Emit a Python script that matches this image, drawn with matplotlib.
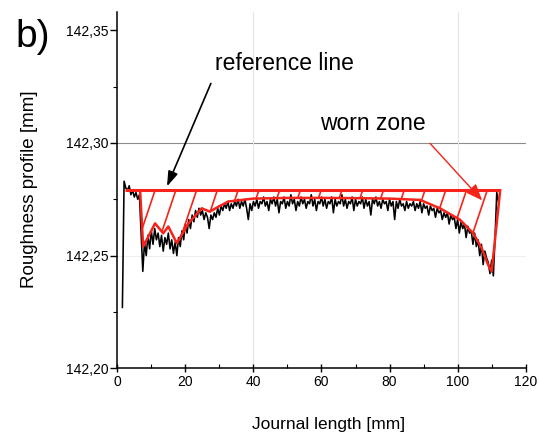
import numpy as np
import matplotlib
matplotlib.use("Agg")
import matplotlib.pyplot as plt
from matplotlib.ticker import FuncFormatter, MultipleLocator

plt.rcParams["font.family"] = ["Liberation Sans", "DejaVu Sans"]

# --- data (profile heights in micrometres above 142.20 mm) ---
BASE_MM = 142.20
X_START, X_STEP = 1.5, 0.5
profile_um = [
    27, 83, 80, 79, 81, 77, 79, 76, 78, 75,
    77, 60, 43, 56, 50, 59, 53, 61, 55, 62,
    57, 60, 54, 59, 52, 58, 55, 60, 53, 57,
    51, 56, 50, 58, 54, 61, 57, 64, 60, 66,
    62, 68, 65, 70, 67, 71, 68, 70, 66, 69,
    67, 62, 68, 66, 69, 67, 71, 68, 72, 70,
    73, 71, 74, 70, 73, 71, 74, 72, 75, 71,
    74, 72, 75, 71, 66, 73, 70, 74, 72, 75,
    71, 74, 73, 76, 72, 74, 70, 75, 73, 76,
    72, 75, 69, 74, 73, 76, 71, 74, 72, 77,
    73, 75, 70, 74, 72, 76, 73, 75, 71, 74,
    73, 77, 72, 75, 70, 74, 73, 76, 72, 75,
    71, 74, 73, 76, 69, 75, 72, 74, 73, 77,
    72, 75, 71, 74, 73, 76, 70, 75, 72, 74,
    73, 76, 71, 75, 72, 74, 68, 75, 73, 76,
    72, 74, 71, 75, 73, 74, 70, 75, 72, 74,
    66, 74, 71, 75, 72, 73, 70, 74, 71, 73,
    72, 74, 70, 73, 71, 74, 69, 73, 71, 72,
    68, 72, 70, 71, 67, 71, 69, 70, 66, 69,
    67, 69, 64, 68, 66, 67, 62, 66, 60, 65,
    62, 64, 58, 63, 60, 61, 55, 60, 54, 57,
    50, 55, 46, 52, 49, 47, 42, 48, 41, 58,
    78, 74,
]

# reference line and lower envelope of the worn zone
ref_um = 79.0
ref_x = [2.3, 112.5]
env_x = [6.7, 7.6, 11.1, 13.5, 15.0, 17.5, 20.9, 24.8, 27.2, 29.7, 32.6,
         40, 50, 60, 70, 80, 89.0, 94.8, 100.7, 104.6, 107.1, 109.0, 110.0, 112.5]
env_um = [79, 54, 64.3, 59.9, 62.9, 55.5, 64.3, 71.0, 69.5, 71.7, 74.0,
          75.3, 75.6, 75.6, 75.5, 75.3, 74.7, 71.0, 65.9, 59.9, 53.2, 45.8, 42.9, 79]

RED = "#f5231a"

x_prof = X_START + X_STEP * np.arange(len(profile_um))
y_prof = BASE_MM + np.array(profile_um) / 1000.0
env_y = BASE_MM + np.array(env_um) / 1000.0
ref_y = BASE_MM + ref_um / 1000.0

fig = plt.figure(figsize=(5.39, 4.36), dpi=100)
ax = fig.add_axes([0.2176, 0.1553, 0.7577, 0.8167])

# faint grid
ax.axhline(142.30, color="#8c8c8c", lw=0.8, zorder=0)
ax.axhline(142.25, color="#eeeeee", lw=0.8, zorder=0)
for gx in (40, 100):
    ax.axvline(gx, color="#e6e6e6", lw=0.8, zorder=0)

ax.plot(x_prof, y_prof, color="black", lw=1.15, zorder=2)

# worn zone: reference line, envelope and hatching
ax.plot(ref_x, [ref_y, ref_y], color=RED, lw=2.2, zorder=3, solid_capstyle="butt")
ax.plot(env_x, env_y, color=RED, lw=1.8, zorder=3)

slope = 4.5  # um per mm of length
grid = np.linspace(env_x[0], env_x[-1], 4000)
env_fine = np.interp(grid, env_x, env_um)
for xt in np.arange(11.1, 112.0, 6.1):
    mask = grid <= xt
    line = ref_um - slope * (xt - grid[mask])
    below = np.where(line <= env_fine[mask])[0]
    if len(below) == 0:
        continue
    xb = grid[mask][below[-1]]
    yb = ref_um - slope * (xt - xb)
    ax.plot([xb, xt], [BASE_MM + yb / 1000.0, ref_y], color=RED, lw=1.2, zorder=3)

# annotations
ax.annotate("", xy=(14.6, 142.2807), xytext=(27.5, 142.3264),
            arrowprops=dict(arrowstyle="-|>,head_length=0.9,head_width=0.3",
                            color="black", lw=1.2, shrinkA=0, shrinkB=0))
ax.text(28.7, 142.3322, "reference line", fontsize=16.5, ha="left", va="baseline")
ax.annotate("", xy=(107.2, 142.2745), xytext=(91.9, 142.2998),
            arrowprops=dict(arrowstyle="-|>,head_length=1.0,head_width=0.4",
                            color=RED, lw=1.0, shrinkA=0, shrinkB=0))
ax.text(59.6, 142.3056, "worn zone", fontsize=16.5, ha="left", va="baseline")

ax.set_xlim(0, 120)
ax.set_ylim(142.20, 142.358)
ax.set_xticks(np.arange(0, 121, 20))
ax.xaxis.set_minor_locator(MultipleLocator(10))
ax.set_yticks([142.20, 142.25, 142.30, 142.35])
ax.yaxis.set_minor_locator(MultipleLocator(0.025))
ax.yaxis.set_major_formatter(FuncFormatter(lambda v, _: f"{v:.2f}".replace(".", ",")))

for side in ("top", "right"):
    ax.spines[side].set_visible(False)
for side in ("left", "bottom"):
    ax.spines[side].set_linewidth(1.1)
ax.tick_params(axis="y", which="major", direction="out", length=5, width=1, labelsize=10, pad=1)
ax.tick_params(axis="y", which="minor", direction="out", length=3, width=0.8)
ax.tick_params(axis="x", which="major", direction="inout", length=6, width=1, labelsize=10, pad=2)
ax.tick_params(axis="x", which="minor", direction="in", length=3, width=0.8)

ax.set_xlabel("Journal length [mm]", fontsize=12.5)
ax.xaxis.label.set_va("center")
ax.xaxis.set_label_coords(0.518, -0.159)
ax.set_ylabel("Roughness profile [mm]", fontsize=13.5)
ax.yaxis.label.set_va("center")
ax.yaxis.set_label_coords(-0.214, 0.503)

fig.text(0.028, 0.892, "b)", fontsize=28, ha="left", va="baseline")

fig.savefig("out.png", dpi=100)
